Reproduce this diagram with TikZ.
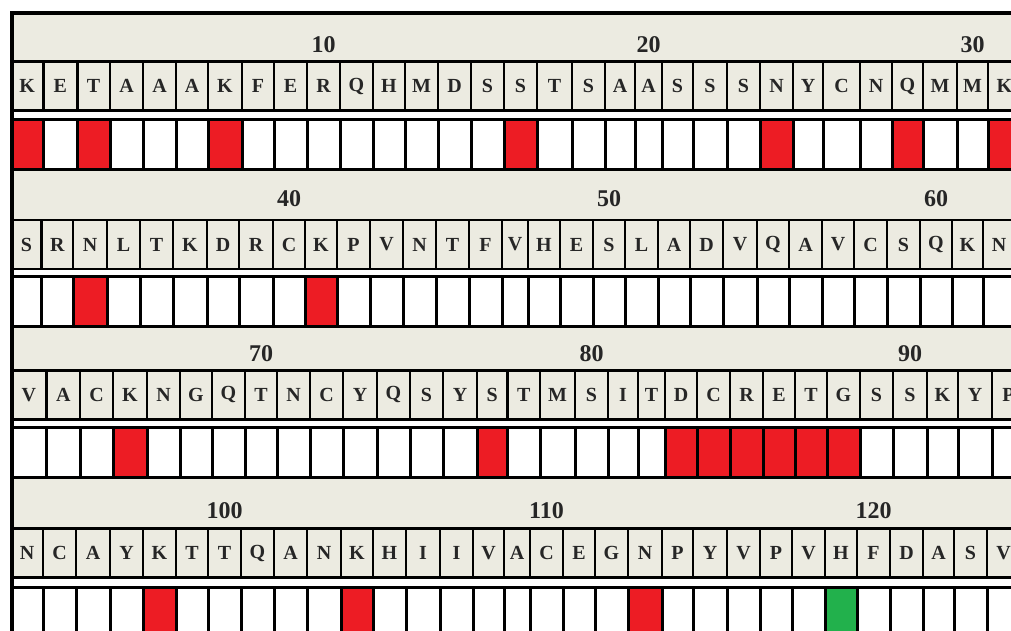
\documentclass[tikz,border=0pt]{standalone}
\usepackage{fontspec}
\setmainfont{Liberation Serif}
\usepackage{xcolor}
\definecolor{bandbeige}{HTML}{ECEBE1}
\definecolor{hitred}{HTML}{ED1C24}
\definecolor{hitgreen}{HTML}{22B14C}

\begin{document}
\begin{tikzpicture}[
    x=0.5pt, y=-0.5pt,
    band/.style={fill=bandbeige},
    rescell/.style={draw=black, line width=1.3pt, fill=bandbeige, minimum height=24.5pt, inner sep=0pt, outer sep=0pt, text=black!85, font=\bfseries\fontsize{10}{12}\selectfont},
    markcell/.style={draw=black, line width=1.5pt, minimum height=25pt, inner sep=0pt, outer sep=0pt},
    numlabel/.style={text=black!85, inner sep=0pt, font=\bfseries\fontsize{12}{14}\selectfont}
]
\useasboundingbox (0,0) rectangle (1011,631);
\clip (0,0) rectangle (1011,631);

% Header bands
\fill[band] (11,13) rectangle (1011,61.5);
\fill[band] (11,169.5) rectangle (1011,220);
\fill[band] (11,326.5) rectangle (1011,370);
\fill[band] (11,476.5) rectangle (1011,528);
\coordinate (hdr1) at (0,45);
\coordinate (hdr2) at (0,198.5);
\coordinate (hdr3) at (0,354);
\coordinate (hdr4) at (0,511);

% Row 1: residues 1-31
\foreach \xr/\aa/\hue [remember=\xr as \xl (initially 11), count=\k] in {
    43.3/K/hitred, 77.3/E/white, 110/T/hitred, 143/A/white, 176/A/white, 208/A/white,
    242/K/hitred, 274/F/white, 307/E/white, 340/R/white, 373/Q/white, 405/H/white,
    438/M/white, 471/D/white, 504/S/white, 537/S/hitred, 572/T/white, 605/S/white,
    635/A/white, 662/A/white, 693/S/white, 727/S/white, 760/S/white, 793/N/hitred,
    823/Y/white, 860/C/white, 892/N/white, 923/Q/hitred, 957/M/white, 988/M/white, 1021/K/hitred}{
  \pgfmathsetmacro\w{(\xr-\xl)/2}
  \node[rescell, minimum width=\w pt] (res\k) at ({(\xl+\xr)/2}, 86) {\aa};
  \node[markcell, minimum width=\w pt, fill=\hue] (mark\k) at ({(\xl+\xr)/2}, 144.25) {};
}

% Row 2: residues 32-62
\foreach \xr/\aa/\hue [remember=\xr as \xl (initially 11), count=\k] in {
    41.7/S/white, 73/R/white, 107/N/hitred, 140/L/white, 173/T/white, 207/K/white,
    239/D/white, 273/R/white, 305/C/white, 337/K/hitred, 370/P/white, 403/V/white,
    436/N/white, 469/T/white, 502/F/white, 528/V/white, 560/H/white, 593/E/white,
    625/S/white, 658/L/white, 690/A/white, 723/D/white, 757/V/white, 789/Q/white,
    822/A/white, 854/V/white, 887/C/white, 920/S/white, 952/Q/white, 983/K/white, 1015/N/white}{
  \pgfmathsetmacro\w{(\xr-\xl)/2}
  \pgfmathtruncatemacro\n{\k+31}
  \node[rescell, minimum width=\w pt] (res\n) at ({(\xl+\xr)/2}, 244.5) {\aa};
  \node[markcell, minimum width=\w pt, fill=\hue] (mark\n) at ({(\xl+\xr)/2}, 301.5) {};
}

% Row 3: residues 63-93
\foreach \xr/\aa/\hue [remember=\xr as \xl (initially 11), count=\k] in {
    46.7/V/white, 80/A/white, 113/C/white, 147/K/hitred, 180/N/white, 212/G/white,
    245/Q/white, 277/T/white, 310/N/white, 343/C/white, 377/Y/white, 410/Q/white,
    443/S/white, 477/Y/white, 507.5/S/hitred, 540/T/white, 575/M/white, 608/S/white,
    638/I/white, 665/T/white, 697/D/hitred, 730/C/hitred, 763/R/hitred, 795/E/hitred,
    827/T/hitred, 860/G/hitred, 893/S/white, 927/S/white, 958/K/white, 992/Y/white, 1025/P/white}{
  \pgfmathsetmacro\w{(\xr-\xl)/2}
  \pgfmathtruncatemacro\n{\k+62}
  \node[rescell, minimum width=\w pt] (res\n) at ({(\xl+\xr)/2}, 394.75) {\aa};
  \node[markcell, minimum width=\w pt, fill=\hue] (mark\n) at ({(\xl+\xr)/2}, 452.25) {};
}

% Row 4: residues 94-124
\foreach \xr/\aa/\hue [remember=\xr as \xl (initially 11), count=\k] in {
    43/N/white, 76/C/white, 110/A/white, 143/Y/white, 176/K/hitred, 208/T/white,
    241/T/white, 274/Q/white, 307/A/white, 341/N/white, 373/K/hitred, 406/H/white,
    440/I/white, 473/I/white, 504/V/white, 530/A/white, 563/C/white, 595/E/white,
    628/G/white, 662/N/hitred, 693/P/white, 727/Y/white, 760/V/white, 792/P/white,
    825/V/white, 857/H/hitgreen, 890/F/white, 923/D/white, 954/A/white, 987/S/white, 1020/V/white}{
  \pgfmathsetmacro\w{(\xr-\xl)/2}
  \pgfmathtruncatemacro\n{\k+93}
  \node[rescell, minimum width=\w pt] (res\n) at ({(\xl+\xr)/2}, 553.25) {\aa};
  \node[markcell, minimum width=\w pt, fill=\hue] (mark\n) at ({(\xl+\xr)/2}, 612) {};
}

% Position numbers
\node[numlabel] (num10) at (res10 |- hdr1) {10};
\node[numlabel] (num20) at (res20 |- hdr1) {20};
\node[numlabel] (num30) at (res30 |- hdr1) {30};
\node[numlabel] (num40) at (res40 |- hdr2) {40};
\node[numlabel] (num50) at (res50 |- hdr2) {50};
\node[numlabel] (num60) at (res60 |- hdr2) {60};
\node[numlabel] (num70) at (res70 |- hdr3) {70};
\node[numlabel] (num80) at (res80 |- hdr3) {80};
\node[numlabel] (num90) at (res90 |- hdr3) {90};
\node[numlabel] (num100) at (res100 |- hdr4) {100};
\node[numlabel] (num110) at (res110 |- hdr4) {110};
\node[numlabel] (num120) at (res120 |- hdr4) {120};

% Outer frame
\fill[black] (9.5,11) rectangle (1011,15);
\fill[black] (9.5,11) rectangle (14,631);

\end{tikzpicture}
\end{document}
